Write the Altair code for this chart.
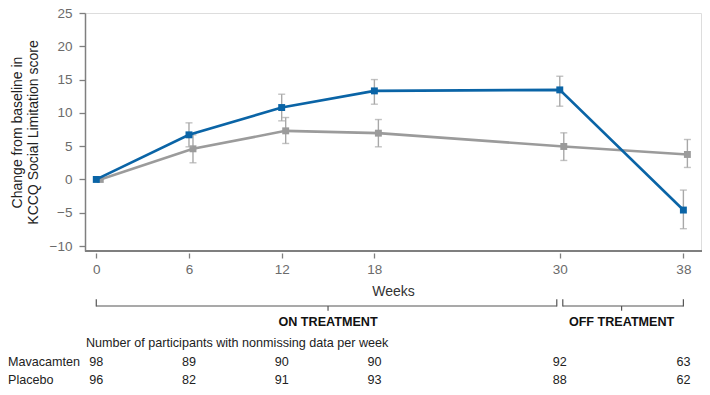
import altair as alt
import pandas as pd

weeks = [0, 6, 12, 18, 30, 38]
mava_mean = [0.0, 6.7, 10.8, 13.3, 13.45, -4.6]
mava_lo = [None, 4.9, 8.8, 11.3, 11.0, -7.4]
mava_hi = [None, 8.5, 12.8, 15.0, 15.5, -1.6]
plac_mean = [0.0, 4.6, 7.3, 6.95, 4.95, 3.75]
plac_lo = [None, 2.5, 5.4, 4.9, 2.85, 1.8]
plac_hi = [None, 6.7, 9.3, 9.0, 7.0, 6.0]
mava_n = [98, 89, 90, 90, 92, 63]
plac_n = [96, 82, 91, 93, 88, 62]
series_names = ["Mavacamten", "Placebo"]
phases = ["ON TREATMENT", "OFF TREATMENT"]
phase_start = [0, 30]
phase_end = [30, 38]
y_ticks = [-10, -5, 0, 5, 10, 15, 20, 25]

BLUE = "#0a64a6"
GRAY = "#9b9b9b"
ERR = "#a8a8a8"
AX = "#7f7f7f"
TXT = "#222222"
BR = "#555555"
W, H = 616, 238
FS = 12.6

mava = pd.DataFrame({"week": weeks, "mean": mava_mean, "lo": mava_lo, "hi": mava_hi, "n": mava_n})
plac = pd.DataFrame({"week": weeks, "mean": plac_mean, "lo": plac_lo, "hi": plac_hi, "n": plac_n})
ph = pd.DataFrame({"phase": phases, "start": phase_start, "end": phase_end})
ph["mid"] = (ph["start"] + ph["end"]) / 2

xs = alt.Scale(domain=[-0.73, 39.14], nice=False, zero=False, padding=0)
ys = alt.Scale(domain=[-10.75, 25], nice=False, zero=False, padding=0)

x_axis = alt.Axis(values=weeks, domain=False, offset=2, tickSize=5, tickColor=AX, tickWidth=1.3,
                  labelColor="#6b6b6b", labelFontSize=13.5, labelPadding=4, grid=False,
                  title="Weeks", titleFontSize=14, titleFontWeight="normal", titleColor="#333333",
                  titlePadding=9)
y_axis = alt.Axis(values=y_ticks, domainColor=AX, domainWidth=1.5, tickColor=AX, tickSize=6, tickWidth=1.3,
                  labelColor="#6b6b6b", labelFontSize=13.5, labelPadding=7, grid=False,
                  title=["Change from baseline in", "KCCQ Social Limitation score"],
                  titleFontSize=14, titleFontWeight="normal", titleColor=TXT,
                  titlePadding=8.5, titleLineHeight=16)

X = alt.X("week:Q", scale=xs, axis=x_axis)


def Y(field):
    return alt.Y(field, scale=ys, axis=y_axis)


def series_layers(df, color, dx):
    base = alt.Chart(df)
    eb = base.transform_filter("datum.lo != null")
    rule = eb.mark_rule(color=ERR, strokeWidth=1.4, xOffset=dx).encode(x=X, y=Y("lo:Q"), y2="hi:Q")
    cap_lo = eb.mark_tick(color=ERR, orient="horizontal", size=7, thickness=1.4, xOffset=dx).encode(
        x=X, y=Y("lo:Q"))
    cap_hi = eb.mark_tick(color=ERR, orient="horizontal", size=7, thickness=1.4, xOffset=dx).encode(
        x=X, y=Y("hi:Q"))
    line = base.mark_line(color=color, strokeWidth=2.6, xOffset=dx).encode(x=X, y=Y("mean:Q"))
    pts = base.mark_square(color=color, size=48, opacity=1, xOffset=dx).encode(x=X, y=Y("mean:Q"))
    return [rule, cap_lo, cap_hi, line, pts]


baseline = alt.Chart(mava).mark_rule(color=AX, strokeWidth=1.5).encode(
    x=alt.value(0), x2=alt.value(W + 1), y=alt.value(H))

on = alt.Chart(ph.iloc[[0]])
off = alt.Chart(ph.iloc[[1]])
XS = alt.X("start:Q", scale=xs, axis=x_axis)
XE = alt.X("end:Q", scale=xs, axis=x_axis)
XM = alt.X("mid:Q", scale=xs, axis=x_axis)
YB, YT, YM = 293, 286.3, 297.7
br = [
    on.mark_rule(color=BR, strokeWidth=1.2, x2Offset=-3).encode(x=XS, x2="end:Q", y=alt.value(YB)),
    off.mark_rule(color=BR, strokeWidth=1.2, xOffset=3).encode(x=XS, x2="end:Q", y=alt.value(YB)),
    on.mark_rule(color=BR, strokeWidth=1.2).encode(x=XS, y=alt.value(YT), y2=alt.value(YB + 0.5)),
    on.mark_rule(color=BR, strokeWidth=1.2, xOffset=-3).encode(x=XE, y=alt.value(YT), y2=alt.value(YB + 0.5)),
    off.mark_rule(color=BR, strokeWidth=1.2, xOffset=3).encode(x=XS, y=alt.value(YT), y2=alt.value(YB + 0.5)),
    off.mark_rule(color=BR, strokeWidth=1.2).encode(x=XE, y=alt.value(YT), y2=alt.value(YB + 0.5)),
    alt.Chart(ph).mark_rule(color=BR, strokeWidth=1.2).encode(x=XM, y=alt.value(YB), y2=alt.value(YM)),
    alt.Chart(ph).mark_text(fontSize=FS, fontWeight="bold", color="#111111", baseline="middle").encode(
        x=XM, y=alt.value(309.3), text="phase:N"),
]

hdr = alt.Chart(pd.DataFrame({"t": ["Number of participants with nonmissing data per week"]})).mark_text(
    fontSize=FS, color=TXT, align="left", baseline="middle").encode(
    x=alt.value(1), y=alt.value(330), text="t:N")

ROW_M, ROW_P = 349, 366.5
n_m = alt.Chart(mava).mark_text(fontSize=FS, color=TXT, baseline="middle").encode(
    x=X, y=alt.value(ROW_M), text="n:Q")
n_p = alt.Chart(plac).mark_text(fontSize=FS, color=TXT, baseline="middle").encode(
    x=X, y=alt.value(ROW_P), text="n:Q")
names = pd.DataFrame({"name": series_names})
lab_m = alt.Chart(names.iloc[[0]]).mark_text(fontSize=FS, color=TXT, align="left", baseline="middle").encode(
    x=alt.value(-77), y=alt.value(ROW_M), text="name:N")
lab_p = alt.Chart(names.iloc[[1]]).mark_text(fontSize=FS, color=TXT, align="left", baseline="middle").encode(
    x=alt.value(-77), y=alt.value(ROW_P), text="name:N")

layers = ([baseline] + series_layers(plac, GRAY, 4) + series_layers(mava, BLUE, 0)
          + br + [hdr, n_m, n_p, lab_m, lab_p])

chart = alt.layer(*layers).properties(
    width=W, height=H, autosize=alt.AutoSizeParams(type="none"),
    padding={"left": 77, "top": 5, "right": 1, "bottom": 136}
).configure_view(stroke=None).configure(font="Liberation Sans", background="white")

chart.save("out.html", embed_options={"renderer": "svg", "actions": False})
